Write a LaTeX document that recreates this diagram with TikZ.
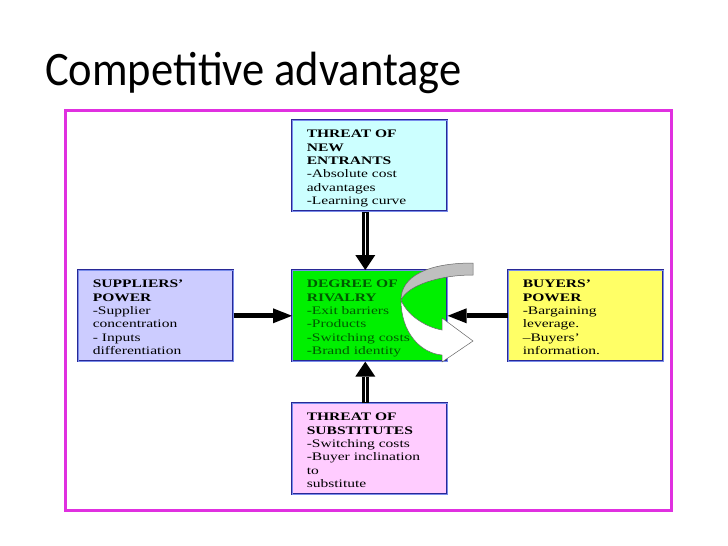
\documentclass[tikz,border=0pt]{standalone}
\usepackage{fontspec}
\setmainfont{Liberation Serif}
\newfontfamily\titlefont{Carlito}
\usepackage{graphicx}
\usetikzlibrary{arrows.meta}

\definecolor{marco}{RGB}{224,48,224}
\definecolor{borde}{RGB}{40,40,150}
\definecolor{bordeint}{RGB}{120,140,235}
\definecolor{cian}{RGB}{204,255,255}
\definecolor{lavanda}{RGB}{204,204,255}
\definecolor{verde}{RGB}{0,240,0}
\definecolor{verdeosc}{RGB}{0,90,0}
\definecolor{amarillo}{RGB}{255,255,102}
\definecolor{rosa}{RGB}{255,204,255}

% Texto de cada caja (ensanchado como en el original)
\newcommand{\cajatexto}[1]{\makebox[126pt][l]{\scalebox{1.35}[1]{\fontsize{11.5}{13.3}\selectfont\begin{tabular}[t]{@{}l@{}}#1\end{tabular}}}}

\begin{document}
\begin{tikzpicture}[
            x=1pt, y=-1pt,
            caja/.style={draw=borde, line width=0.6pt, double=bordeint, double distance=0.9pt,
                inner xsep=14.5pt, inner ysep=4pt, text height=13.5pt, text depth=69.5pt, anchor=north west},
            flechav/.style={line width=6.5pt, -{Triangle[length=15pt, width=20pt, line width=0pt]},
                postaction={draw=white, line width=0.8pt, -, shorten <=1pt, shorten >=15pt}},
            flechah/.style={line width=5pt, -{Triangle[length=19pt, width=15pt, line width=0pt]}},
            curva/.style={draw=black!60, line width=0.5pt}
        ]
            \useasboundingbox (0,0) rectangle (728,546);
            \fill[white] (0,0) rectangle (728,546);

            % Titulo
            \node[anchor=base west, inner sep=0pt, font=\titlefont\fontsize{44.5}{50}\selectfont] (titulo) at (45,85) {\scalebox{1}[1.08]{Competitive advantage}};

            % Marco
            \draw[marco, line width=3pt] (65,110) rectangle (671,510);

            % Cajas de las cinco fuerzas
            \node[caja, fill=cian] (nuevos) at (292,120) {\cajatexto{\textbf{THREAT OF}\\ \textbf{NEW}\\ \textbf{ENTRANTS}\\ -Absolute cost\\ advantages\\ -Learning curve}};
            \node[caja, fill=lavanda] (proveedores) at (78,270) {\cajatexto{\textbf{SUPPLIERS’}\\ \textbf{POWER}\\ -Supplier\\ concentration\\ - Inputs\\ differentiation}};
            \node[caja, fill=verde, text=verdeosc] (rivalidad) at (292,270) {\cajatexto{\textbf{DEGREE OF}\\ \textbf{RIVALRY}\\ -Exit barriers\\ -Products\\ -Switching costs\\ -Brand identity}};
            \node[caja, fill=amarillo] (compradores) at (508,270) {\cajatexto{\textbf{BUYERS’}\\ \textbf{POWER}\\ -Bargaining\\ leverage.\\ –Buyers’\\ information.}};
            \node[caja, fill=rosa] (sustitutos) at (292,403) {\cajatexto{\textbf{THREAT OF}\\ \textbf{SUBSTITUTES}\\ -Switching costs\\ -Buyer inclination\\ to\\ substitute}};

            % Flechas hacia la rivalidad
            \draw[flechav] ([xshift=-4.5pt]nuevos.south) -- ([xshift=-4.5pt]rivalidad.north);
            \draw[flechav] ([xshift=-4.5pt]sustitutos.north) -- ([xshift=-4.5pt]rivalidad.south);
            \draw[flechah] (proveedores.east) -- (rivalidad.west);
            \draw[flechah] (compradores.west) -- (rivalidad.east);

            % Flecha curva
            \draw[curva, fill=gray!50] (473,263) .. controls (428,263) and (401,276) .. (401,300)
                .. controls (408,285) and (440,275) .. (473,275) -- cycle;
            \draw[curva, fill=white] (401,300) .. controls (401,332) and (420,353) .. (442,355)
                -- (442,362) -- (473,341) -- (442,318) -- (442,330)
                .. controls (425,327) and (407,315) .. (401,300) -- cycle;

        \end{tikzpicture}
\end{document}
